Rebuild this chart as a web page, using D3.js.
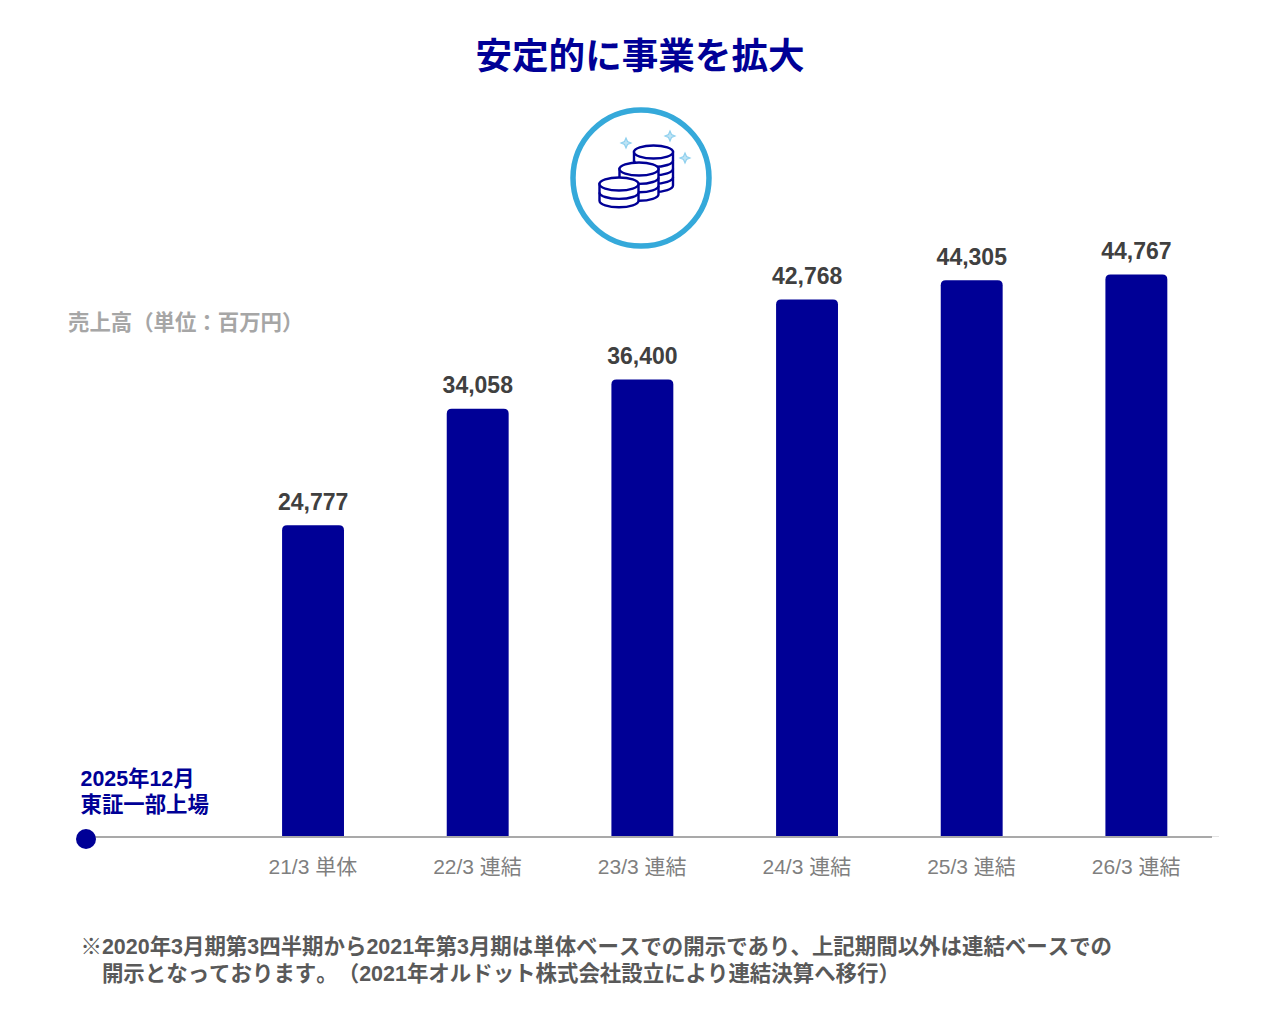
<!DOCTYPE html>
<html lang="ja"><head><meta charset="utf-8">
<script src="https://cdn.jsdelivr.net/npm/d3@7"></script>
<style>html,body{margin:0;padding:0;background:#fff}svg{display:block}
text{font-family:"Liberation Sans","Noto Sans CJK JP",sans-serif;text-spacing-trim:space-all;font-kerning:none}</style></head>
<body><div id="chart"></div>
<script>
const categories=["21/3 単体","22/3 連結","23/3 連結","24/3 連結","25/3 連結","26/3 連結"];
const sales=[24777,34058,36400,42768,44305,44767];
const titleText="安定的に事業を拡大";
const unitLabel="売上高（単位：百万円）";
const listingNote=["2025年12月","東証一部上場"];
const footnote=["※2020年3月期第3四半期から2021年第3月期は単体ベースでの開示であり、上記期間以外は連結ベースでの","　開示となっております。（2021年オルドット株式会社設立により連結決算へ移行）"];
const stacks=[{cx:653.5,cy:152,layers:4},{cx:639,cy:169,layers:3},{cx:619,cy:184,layers:2}];
const sparkles=[[626,143],[670,136],[685,158]];

const W=1280,H=1019,base=837,navy="#000096";
const svg=d3.select("#chart").append("svg").attr("width",W).attr("height",H);
const x=d3.scaleBand().domain(categories).range([230.5,1218.5]).paddingInner(0.624).paddingOuter(0.312);
const y=d3.scaleLinear().domain([0,44767]).range([base-1,274.5]);

svg.append("text").attr("x",640).attr("y",69).attr("text-anchor","middle")
  .attr("font-size",36.6).attr("font-weight",700).attr("fill",navy).text(titleText);

// icon
const icon=svg.append("g");
icon.append("circle").attr("cx",641).attr("cy",178).attr("r",68).attr("fill","#fff").attr("stroke","#35a9da").attr("stroke-width",5.5);
icon.selectAll(".spark").data(sparkles).join("path").attr("class","spark")
  .attr("transform",d=>`translate(${d[0]},${d[1]})`)
  .attr("d","M0,-5L1.5,-1.5L5,0L1.5,1.5L0,5L-1.5,1.5L-5,0L-1.5,-1.5Z")
  .attr("fill","#bfe4f5").attr("stroke","#8fd0ee").attr("stroke-width",1.2);
const rx=19.5,ry=6.5,lh=8.4;
stacks.forEach(s=>{
  const g=icon.append("g").attr("fill","#fff").attr("stroke",navy).attr("stroke-width",2.4);
  const h=s.layers*lh;
  g.append("path").attr("d",`M${s.cx-rx},${s.cy}V${s.cy+h}A${rx},${ry} 0 0 0 ${s.cx+rx},${s.cy+h}V${s.cy}Z`);
  d3.range(1,s.layers).forEach(i=>g.append("path").attr("fill","none")
    .attr("d",`M${s.cx-rx},${s.cy+i*lh}A${rx},${ry} 0 0 0 ${s.cx+rx},${s.cy+i*lh}`));
  g.append("ellipse").attr("cx",s.cx).attr("cy",s.cy).attr("rx",rx).attr("ry",ry);
});

svg.append("text").attr("x",68).attr("y",330).attr("font-size",21.4).attr("font-weight",700).attr("fill","#a6a6a6").text(unitLabel);

// axis line
svg.append("line").attr("x1",1212).attr("x2",1219).attr("y1",base-.5).attr("y2",base-.5).attr("stroke","#e4e4e4").attr("stroke-width",1);
svg.append("line").attr("x1",86).attr("x2",1212).attr("y1",base).attr("y2",base).attr("stroke","#a9a9a9").attr("stroke-width",2);
svg.append("circle").attr("cx",86).attr("cy",839).attr("r",10).attr("fill",navy);

// bars
const r=5;
svg.selectAll(".bar").data(sales).join("path").attr("class","bar").attr("fill",navy)
  .attr("d",(d,i)=>{const a=x(categories[i])+.2,b=x.bandwidth(),t=y(d),e=y(0);
    return `M${a},${e}V${t+r}Q${a},${t} ${a+r},${t}H${a+b-r}Q${a+b},${t} ${a+b},${t+r}V${e}Z`;});
svg.selectAll(".val").data(sales).join("text").attr("class","val")
  .attr("x",(d,i)=>x(categories[i])+x.bandwidth()/2+.3).attr("y",d=>y(d)-15.5)
  .attr("text-anchor","middle").attr("font-size",23).attr("font-weight",700).attr("fill","#404040")
  .text(d=>d3.format(",")(d));

// category labels
svg.append("g").selectAll("text").data(categories).join("text")
  .attr("x",d=>x(d)+x.bandwidth()/2).attr("y",874).attr("text-anchor","middle")
  .attr("font-size",21).attr("fill","#7f7f7f").text(d=>d);

svg.append("g").selectAll("text").data(listingNote).join("text")
  .attr("x",80.5).attr("y",(d,i)=>786+i*26).attr("font-size",21.4).attr("font-weight",700).attr("fill",navy).text(d=>d);

svg.append("g").selectAll("text").data(footnote).join("text")
  .attr("x",80.5).attr("y",(d,i)=>954+i*27).attr("font-size",21.45).attr("font-weight",700).attr("fill","#595959")
  .style("white-space","pre").text(d=>d);
</script></body></html>
